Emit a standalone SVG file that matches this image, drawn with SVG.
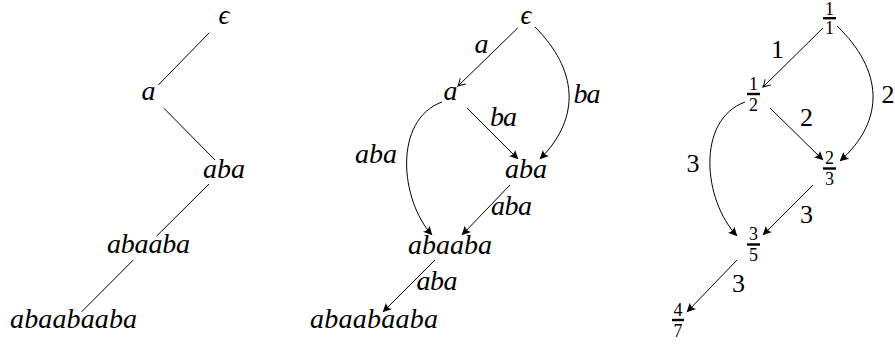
<svg xmlns="http://www.w3.org/2000/svg" width="895" height="345" viewBox="0 0 895 345">
<style>
text{font-family:"Liberation Serif","Times New Roman",serif;fill:#000;text-anchor:middle}
.w{font-style:italic;font-size:28px}
.eps{font-style:italic;font-size:27px}
.n{font-size:26px}
.f{font-size:18px}
.e{stroke:#000;stroke-width:1;fill:none}
.ea{stroke:#000;stroke-width:1;fill:none;marker-end:url(#ah)}
.et{stroke:#000;stroke-width:1;fill:none;marker-end:url(#at)}
.bar{fill:#000}
</style>
<defs>
<marker id="ah" viewBox="-10 -6 12 12" markerWidth="12" markerHeight="12" refX="0" refY="0" orient="auto" markerUnits="userSpaceOnUse"><path d="M0.5,0 L-8.5,-4.4 Q-5.5,0 -8.5,4.4 Z" fill="#000"/></marker>
<marker id="at" viewBox="-10 -6 12 12" markerWidth="12" markerHeight="12" refX="0" refY="0" orient="auto" markerUnits="userSpaceOnUse"><path d="M-7,-4 Q-2.5,-1 0,0 Q-2.5,1 -7,4" fill="none" stroke="#000" stroke-width="1"/></marker>
</defs>
<g id="connectors">
<g id="tree-edges">
<path class="e" d="M209.3,32.7 L158.3,85"/>
<path class="e" d="M164,108.3 L215,160"/>
<path class="e" d="M209,184 L156.7,236"/>
<path class="e" d="M133.3,260 L81.7,311.7"/>
</g>
<g id="word-edges">
<path class="et" d="M517.7,28 L458,86"/>
<path class="ea" d="M467,108 L518,159"/>
<path class="ea" d="M510,185 L462,235"/>
<path class="ea" d="M435,260 L383,312"/>
<path class="ea" d="M535,27 C577,69 582,117 540,159"/>
<path class="ea" d="M442,102 C393,120 400,200 432,235"/>
<text class="w" x="481.5" y="53">a</text>
<text class="w" x="587" y="103" textLength="27">ba</text>
<text class="w" x="503.5" y="126" textLength="27">ba</text>
<text class="w" x="376" y="163" textLength="42">aba</text>
<text class="w" x="511.5" y="215" textLength="41">aba</text>
<text class="w" x="437" y="290" textLength="41">aba</text>
</g>
<g id="fraction-edges">
<path class="et" d="M823,28 L763,87"/>
<path class="ea" d="M770,108 L823,160"/>
<path class="ea" d="M813,185 L763,235"/>
<path class="ea" d="M737,260 L687,312"/>
<path class="ea" d="M837,26 C883,70 886,120 840,161"/>
<path class="ea" d="M745,102 C696,120 703,200 737,236"/>
<text class="n" x="777.5" y="58">1</text>
<text class="n" x="888" y="103">2</text>
<text class="n" x="806.5" y="126">2</text>
<text class="n" x="693" y="172">3</text>
<text class="n" x="806.5" y="223">3</text>
<text class="n" x="738.5" y="292">3</text>
</g>
</g>
<g id="t-eps"><text class="eps" x="224" y="24">ϵ</text></g>
<g id="t-a"><text class="w" x="148.5" y="100">a</text></g>
<g id="t-aba"><text class="w" x="224" y="178" textLength="42">aba</text></g>
<g id="t-abaaba"><text class="w" x="148.5" y="253" textLength="83">abaaba</text></g>
<g id="t-abaabaaba"><text class="w" x="73.5" y="328" textLength="127">abaabaaba</text></g>
<g id="w-eps"><text class="eps" x="526" y="24">ϵ</text></g>
<g id="w-a"><text class="w" x="450.5" y="100">a</text></g>
<g id="w-aba"><text class="w" x="526" y="178" textLength="42">aba</text></g>
<g id="w-abaaba"><text class="w" x="450" y="254" textLength="84">abaaba</text></g>
<g id="w-abaabaaba"><text class="w" x="374" y="328" textLength="128">abaabaaba</text></g>
<g id="f-1-1"><text class="f" x="829.5" y="15">1</text><rect class="bar" x="823" y="17" width="13" height="2.4"/><text class="f" x="829.5" y="34">1</text></g>
<g id="f-1-2"><text class="f" x="753.5" y="89.5">1</text><rect class="bar" x="747" y="92.8" width="13" height="2.4"/><text class="f" x="753.5" y="110.5">2</text></g>
<g id="f-2-3"><text class="f" x="829.5" y="164">2</text><rect class="bar" x="823" y="167.3" width="13" height="2.4"/><text class="f" x="829.5" y="185">3</text></g>
<g id="f-3-5"><text class="f" x="753.5" y="240">3</text><rect class="bar" x="747" y="243.3" width="13" height="2.4"/><text class="f" x="753.5" y="261">5</text></g>
<g id="f-4-7"><text class="f" x="678" y="315.5">4</text><rect class="bar" x="672" y="318.8" width="12" height="2.4"/><text class="f" x="678" y="336.5">7</text></g>
</svg>
